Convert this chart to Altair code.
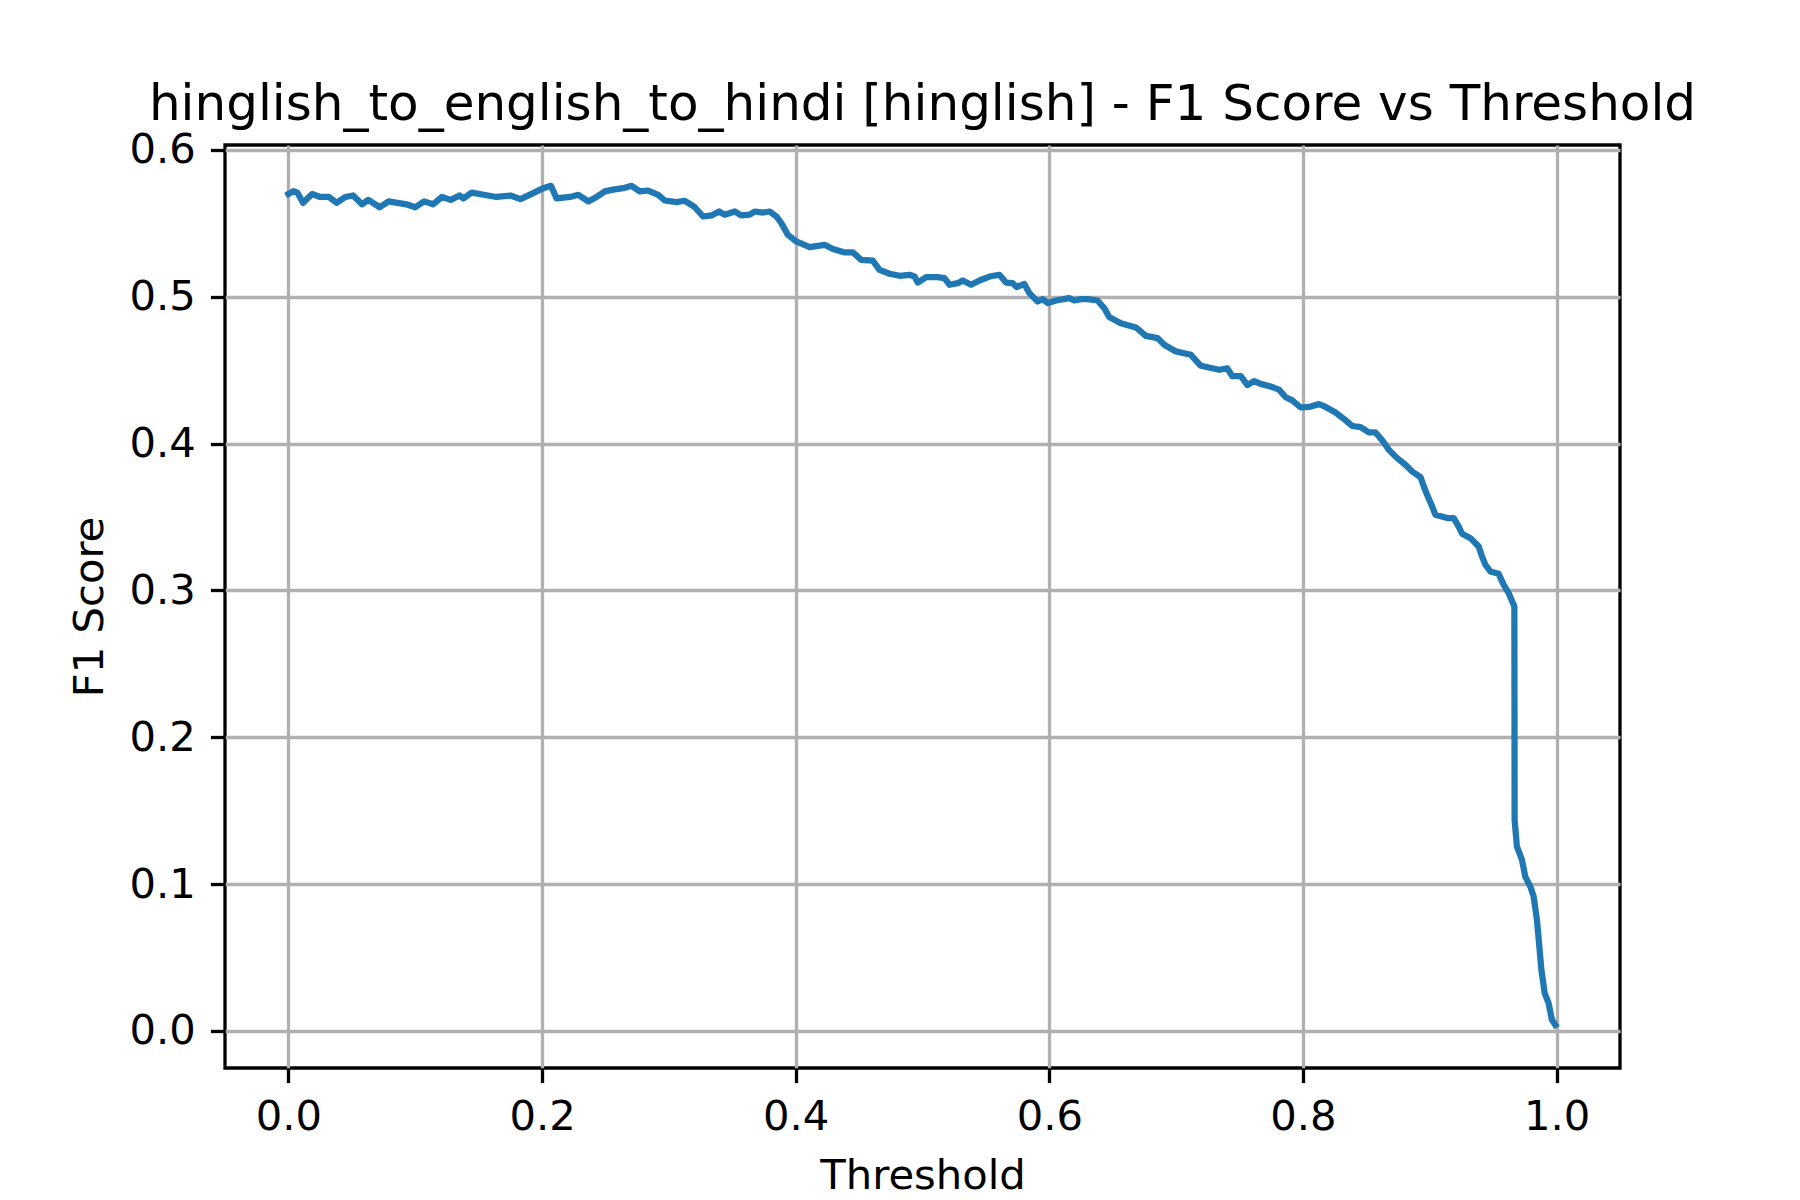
import altair as alt
import pandas as pd

# F1 score, by threshold
thresholds = [
    0.000, 0.004, 0.007, 0.0116, 0.0187, 0.025, 0.032, 0.038, 0.045, 0.051,
    0.058, 0.063, 0.072, 0.079, 0.086, 0.093, 0.100, 0.107, 0.114, 0.121,
    0.128, 0.135, 0.138, 0.1445, 0.154, 0.164, 0.175, 0.183, 0.193, 0.201,
    0.207, 0.2115, 0.222, 0.2286, 0.2365, 0.243, 0.2496, 0.256, 0.264, 0.2706,
    0.277, 0.2837, 0.2916, 0.2968, 0.306, 0.3126, 0.3205, 0.327, 0.3336, 0.3396,
    0.344, 0.352, 0.357, 0.3638, 0.3677, 0.3743, 0.3795, 0.3848, 0.3887, 0.3939,
    0.4005, 0.411, 0.4228, 0.4294, 0.4386, 0.4451, 0.4517, 0.4608, 0.4661, 0.474,
    0.4819, 0.4898, 0.4937, 0.4963, 0.5029, 0.512, 0.5173, 0.5213, 0.5278, 0.5317,
    0.5383, 0.5449, 0.5528, 0.5606, 0.5659, 0.5711, 0.5743, 0.5803, 0.5843, 0.5908,
    0.5948, 0.5987, 0.6053, 0.6157, 0.6197, 0.6249, 0.6302, 0.638, 0.6433, 0.6472,
    0.6564, 0.6683, 0.6761, 0.6853, 0.6906, 0.6998, 0.7116, 0.7195, 0.7339, 0.7404,
    0.7443, 0.751, 0.7562, 0.7614, 0.7667, 0.7745, 0.7811, 0.7864, 0.7916, 0.7982,
    0.8047, 0.8126, 0.8179, 0.8257, 0.8323, 0.8388, 0.8454, 0.852, 0.8572, 0.8624,
    0.8677, 0.8743, 0.8808, 0.8861, 0.8927, 0.8953, 0.8979, 0.9013, 0.9045, 0.9137,
    0.9189, 0.9228, 0.9255, 0.9321, 0.9386, 0.9412, 0.9439, 0.9478, 0.9543, 0.9583,
    0.9622, 0.9667, 0.9669, 0.9687, 0.9727, 0.9753, 0.9793, 0.9819, 0.9845, 0.9864,
    0.988, 0.9906, 0.9937, 0.9963, 0.999,
]
f1_scores = [
    0.570, 0.572, 0.571, 0.564, 0.570, 0.568, 0.568, 0.564, 0.568, 0.569,
    0.563, 0.566, 0.561, 0.565, 0.564, 0.563, 0.561, 0.565, 0.563, 0.568,
    0.566, 0.569, 0.567, 0.571, 0.5695, 0.568, 0.569, 0.5665, 0.5706, 0.574,
    0.5756, 0.567, 0.568, 0.5695, 0.565, 0.568, 0.5718, 0.573, 0.574, 0.5756,
    0.5718, 0.5724, 0.5695, 0.5656, 0.5645, 0.5654, 0.561, 0.5547, 0.5554, 0.5581,
    0.5559, 0.5581, 0.5554, 0.5559, 0.5581, 0.5574, 0.5581, 0.5547, 0.5502, 0.5422,
    0.5377, 0.5339, 0.5354, 0.5325, 0.5302, 0.5302, 0.5252, 0.5247, 0.5184, 0.5157,
    0.5143, 0.515, 0.5138, 0.5097, 0.5134, 0.5134, 0.5127, 0.5082, 0.5093, 0.5111,
    0.5082, 0.5111, 0.5138, 0.515, 0.5097, 0.5093, 0.5066, 0.5088, 0.5025, 0.4968,
    0.4984, 0.4957, 0.4975, 0.4991, 0.4975, 0.4984, 0.4984, 0.4975, 0.4923, 0.4862,
    0.482, 0.4791, 0.4734, 0.4719, 0.4673, 0.4628, 0.4605, 0.453, 0.4503, 0.4512,
    0.4459, 0.4459, 0.4399, 0.4426, 0.4407, 0.4389, 0.4368, 0.4316, 0.4295, 0.4246,
    0.425, 0.4269, 0.425, 0.4212, 0.4168, 0.412, 0.4112, 0.4076, 0.4076, 0.4024,
    0.3958, 0.3901, 0.3856, 0.381, 0.3772, 0.3708, 0.3651, 0.3583, 0.3515, 0.3493,
    0.3493, 0.3435, 0.3386, 0.3356, 0.3299, 0.3231, 0.3174, 0.3129, 0.3113, 0.3038,
    0.2982, 0.289, 0.1437, 0.1256, 0.1165, 0.1051, 0.0983, 0.0915, 0.0756, 0.0574,
    0.0416, 0.0257, 0.0189, 0.0075, 0.004,
]

x_ticks = [0.0, 0.2, 0.4, 0.6, 0.8, 1.0]
y_ticks = [0.0, 0.1, 0.2, 0.3, 0.4, 0.5, 0.6]

df = pd.DataFrame({"threshold": thresholds, "f1": f1_scores})
df["i"] = range(len(df))

W, H = 1395, 923
FONT = "DejaVu Sans"
LABEL = 41.7
LW = 3.3

chart = alt.Chart(df).mark_line(
    color="#1f77b4", strokeWidth=6.25, strokeJoin="round", strokeCap="square"
).encode(
    x=alt.X(
        "threshold:Q",
        scale=alt.Scale(domain=[-0.05, 1.05], nice=False, zero=False),
        axis=alt.Axis(
            title="Threshold", values=x_ticks, format=".1f",
            titleX=W / 2, titleY=120, titleBaseline="alphabetic", titleAlign="center",
            labelPadding=14, labelFlush=False,
        ),
    ),
    y=alt.Y(
        "f1:Q",
        scale=alt.Scale(domain=[-0.0253, 0.6034], nice=False, zero=False),
        axis=alt.Axis(
            title="F1 Score", values=y_ticks, format=".1f",
            titleX=-123, titleY=H / 2, titleAngle=270,
            titleBaseline="alphabetic", titleAlign="center",
            labelPadding=15,
        ),
    ),
    order="i:Q",
).properties(
    width=W,
    height=H,
    autosize=alt.AutoSizeParams(type="none"),
    padding={"left": 217, "top": 137, "right": 170, "bottom": 125},
    title=alt.TitleParams(
        "hinglish_to_english_to_hindi [hinglish] - F1 Score vs Threshold",
        font=FONT, fontSize=50, fontWeight="normal", color="black",
        anchor="middle", baseline="alphabetic", offset=9, dy=49,
    ),
).configure_view(
    stroke="black", strokeWidth=LW
).configure_axis(
    domain=False,
    grid=True, gridColor="#b0b0b0", gridWidth=LW,
    ticks=True, tickColor="black", tickWidth=LW, tickSize=14.6,
    labelFont=FONT, labelFontSize=LABEL, labelColor="black",
    titleFont=FONT, titleFontSize=LABEL, titleFontWeight="normal", titleColor="black",
)

chart.save("out.html", embed_options={"renderer": "svg", "actions": False})
